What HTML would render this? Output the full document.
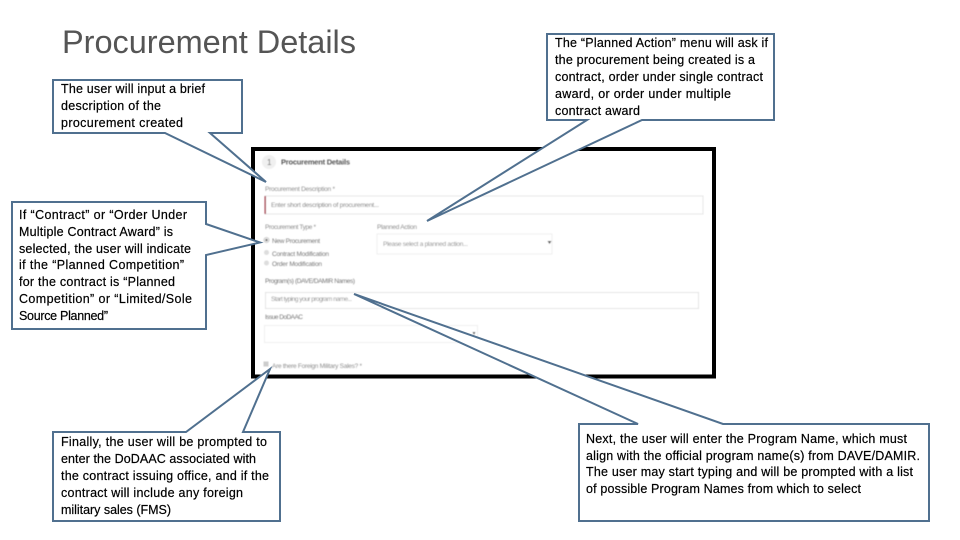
<!DOCTYPE html>
<html>
<head>
<meta charset="utf-8">
<style>
html,body{margin:0;padding:0;background:#fff;width:960px;height:540px;overflow:hidden}
svg{display:block}
text{font-family:"Liberation Sans",sans-serif;white-space:pre}
.c text{font-size:12.500px;fill:#000;stroke:#000;stroke-width:.2px}
.s text{font-size:6.500px;fill:#8f8f8f}
</style>
</head>
<body>
<svg width="960" height="540" viewBox="0 0 960 540" xmlns="http://www.w3.org/2000/svg">
<defs><filter id="b" x="-2%" y="-2%" width="104%" height="104%"><feGaussianBlur stdDeviation="0.5"/></filter></defs>
<rect width="960" height="540" fill="#fff"/>
<text x="62" y="53" font-size="32.500" fill="#555" textLength="294" lengthAdjust="spacing">Procurement Details</text>

<!-- screenshot -->
<rect x="253" y="149" width="461" height="227.500" fill="#fff" stroke="#000" stroke-width="4"/>
<g class="s" filter="url(#b)">
<circle cx="269" cy="162" r="7" fill="#f0f0f0"/>
<text x="267" y="165" style="font-size:8px;fill:#666">1</text>
<text x="281" y="164.500" textLength="69" style="font-size:7.500px;font-weight:bold;fill:#555">Procurement Details</text>
<text x="265" y="191" textLength="70">Procurement Description *</text>
<rect x="265" y="196" width="438" height="18" fill="#fff" stroke="#e6e6e6" stroke-width="1"/>
<rect x="264.500" y="196" width="1.500" height="18" fill="#a84452"/>
<text x="271" y="207" textLength="108" style="fill:#777">Enter short description of procurement...</text>
<text x="265" y="229" textLength="51">Procurement Type *</text>
<text x="377" y="229" textLength="40">Planned Action</text>
<rect x="377" y="234" width="175" height="20" fill="#fff" stroke="#efefef"/>
<text x="383" y="246" textLength="85">Please select a planned action...</text>
<path d="M547.500 241h4l-2 3z" fill="#555"/>
<circle cx="266.500" cy="240" r="2.500" fill="#fff" stroke="#bbb" stroke-width=".8"/><circle cx="266.500" cy="240" r="1.300" fill="#777"/>
<text x="272" y="243" textLength="48" style="fill:#777">New Procurement</text>
<circle cx="266.500" cy="252.500" r="2.500" fill="#ddd"/>
<text x="272" y="256" textLength="57" style="fill:#777">Contract Modification</text>
<circle cx="266.500" cy="263" r="2.500" fill="#ddd"/>
<text x="272" y="266" textLength="50" style="fill:#777">Order Modification</text>
<text x="265" y="283" textLength="90" style="fill:#777">Program(s) (DAVE/DAMIR Names)</text>
<rect x="265.500" y="292.500" width="433" height="16" fill="#fff" stroke="#e4e4e4"/>
<text x="271" y="301" textLength="81">Start typing your program name...</text>
<text x="265" y="319" textLength="38" style="fill:#777">Issue DoDAAC</text>
<rect x="264.500" y="325.500" width="213" height="17" fill="#fff" stroke="#efefef"/>
<path d="M472.500 332h3l-1.500 3z" fill="#555"/>
<rect x="263.500" y="361.500" width="5" height="5" fill="#ccc"/>
<text x="272" y="368" textLength="90">Are there Foreign Military Sales? *</text>
</g>

<!-- callouts -->
<g fill="#fff" stroke="#50708f" stroke-width="2" stroke-linejoin="miter">
<path d="M53 80H242V133H210L266 182L165 133H53Z"/>
<path d="M12 202H206V224L260 242.500L206 255V329H12Z"/>
<path d="M547 34H774V120H642L427 221L587 120H547Z"/>
<path d="M53 432H186L270 369L243 432H280V521H53Z"/>
<path d="M579 424H638L354 294L723 424H929V521H579Z"/>
</g>

<g class="c">
<text x="61" y="93" textLength="144">The user will input a brief</text>
<text x="61" y="110" textLength="100">description of the</text>
<text x="61" y="127" textLength="122">procurement created</text>

<text x="19" y="219" textLength="168">If “Contract” or “Order Under</text>
<text x="19" y="236" textLength="154">Multiple Contract Award” is</text>
<text x="19" y="253" textLength="172">selected, the user will indicate</text>
<text x="19" y="269" textLength="165">if the “Planned Competition”</text>
<text x="19" y="286" textLength="156">for the contract is “Planned</text>
<text x="19" y="303" textLength="173">Competition” or “Limited/Sole</text>
<text x="19" y="320" textLength="89">Source Planned”</text>

<text x="555" y="47" textLength="213">The “Planned Action” menu will ask if</text>
<text x="555" y="64" textLength="200">the procurement being created is a</text>
<text x="555" y="81" textLength="208">contract, order under single contract</text>
<text x="555" y="98" textLength="176">award, or order under multiple</text>
<text x="555" y="115" textLength="85">contract award</text>

<text x="61" y="446" textLength="206">Finally, the user will be prompted to</text>
<text x="61" y="463" textLength="195">enter the DoDAAC associated with</text>
<text x="61" y="480" textLength="208">the contract issuing office, and if the</text>
<text x="61" y="497" textLength="182">contract will include any foreign</text>
<text x="61" y="514" textLength="110">military sales (FMS)</text>

<text x="586" y="443" textLength="321">Next, the user will enter the Program Name, which must</text>
<text x="586" y="460" textLength="334">align with the official program name(s) from DAVE/DAMIR.</text>
<text x="586" y="476" textLength="327">The user may start typing and will be prompted with a list</text>
<text x="586" y="493" textLength="275">of possible Program Names from which to select</text>
</g>
</svg>
</body>
</html>
